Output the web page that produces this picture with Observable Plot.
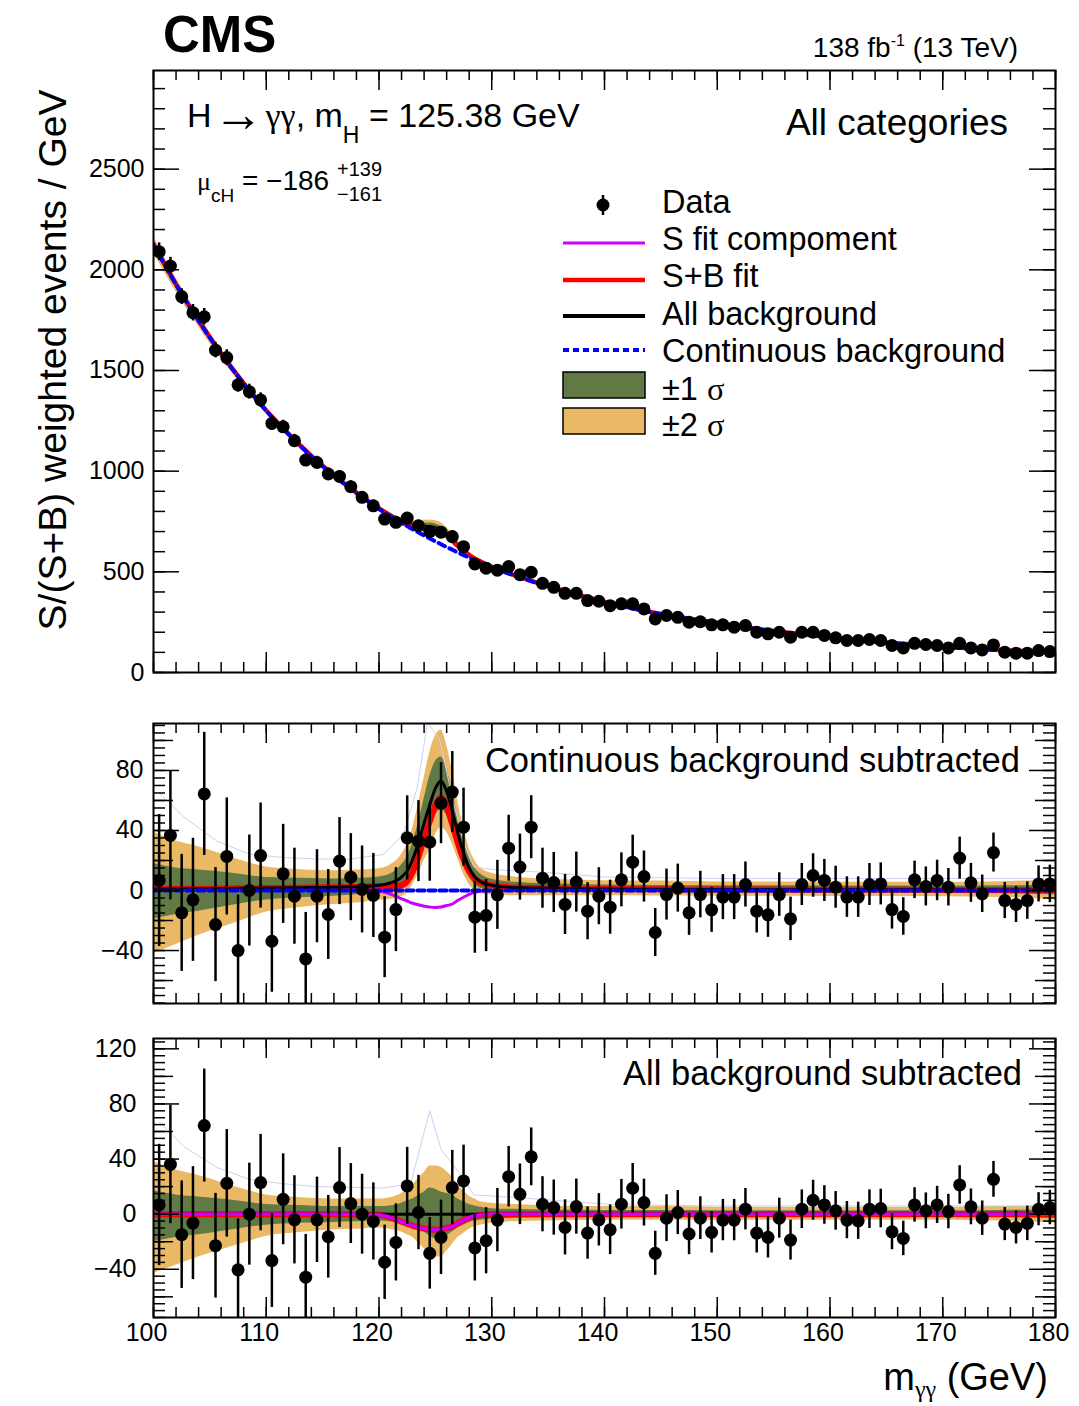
<!DOCTYPE html>
<html>
<head>
<meta charset="utf-8">
<script src="https://cdn.jsdelivr.net/npm/d3@7"></script>
<script src="https://cdn.jsdelivr.net/npm/@observablehq/plot@0.6"></script>
<style>
  body { margin: 0; background: #fff; }
  #fig { position: relative; width: 1079px; height: 1406px; overflow: hidden; background: #fff; }
  #fig svg { position: absolute; left: 0; overflow: visible; }
</style>
</head>
<body>
<div id="fig"></div>
<script>
// ---------------------------------------------------------------------------
// Diphoton mass spectrum, 1 GeV bins from 100 to 180 GeV
// ---------------------------------------------------------------------------
const massBins = d3.range(80).map(i => 100.5 + i);   // bin centres (GeV)

// S/(S+B) weighted events per GeV
const weightedEvents = [
  2090, 2019, 1867, 1787, 1767, 1601, 1564, 1429, 1395, 1354,
  1237, 1220, 1151, 1055, 1043,  986,  974,  923,  870,  828,
   762,  746,  767,  729,  700,  697,  675,  625,  539,  518,
   508,  526,  486,  498,  443,  423,  393,  393,  357,  354,
   332,  341,  341,  316,  266,  283,  274,  250,  252,  237,
   237,  225,  233,  200,  192,  200,  175,  200,  200,  184,
   172,  159,  159,  164,  159,  134,  122,  145,  139,  134,
   122,  145,  122,  112,  137,  101,   96,   96,  109,  104
];

// statistical uncertainty per bin
const eventErrors = [
  44, 43, 39, 41, 41, 38, 39, 37, 37, 35,
  34, 33, 32, 31, 31, 30, 29, 29, 29, 28,
  27, 28, 28, 27, 26, 27, 27, 26, 24, 24,
  23, 22, 22, 21, 20, 20, 20, 20, 19, 19,
  18, 18, 18, 17, 16, 17, 16, 15, 15.5, 15,
  15, 15, 15, 14.5, 15, 14.5, 14.5, 14, 14.5, 14,
  14, 13.5, 13.5, 14, 14, 13, 12.5, 12.5, 13, 13.5,
  12.5, 14, 13, 12.5, 13, 12, 12, 12.5, 12, 12.5
];

// data minus continuous background
const residualContinuous = [
   6.7, 36.7, -14.9, -6.2, 64.4, -22.7, 22.7, -40, 0, 23.3,
  -33.8, 11.1, -3.8, -45.6, -3.8, -16, 19.6, 8.9, 0.7, -3.3,
  -31.1, -12.7, 35.1, 32.9, 32.2, 58.2, 65.6, 42.2, -17.8, -16.7,
  -2.9, 28.2, 15.6, 42.2, 8.2, 5.3, -9.3, 5.6, -13.8, -3.8,
  -11.1, 7.1, 18.9, 9.3, -28, -2.7, 1.6, -14.9, -2.7, -12.9,
  -4.4, -4.4, 4, -13.8, -16.2, -2.7, -18.9, 4, 10, 6.7,
   2.2, -4.4, -4.4, 4, 4.4, -12.7, -17.3, 7.1, 2.7, 6.7,
   2.2, 21.6, 5.1, -2.2, 25.3, -6.7, -9.3, -6.7, 4.4, 4.4
];

// data minus all background (continuous + resonant)
const residualAll = [
   6.7, 36.1, -14.9, -6.5, 64.3, -22.9, 22.4, -40.4, 0, 22.9,
  -33.7, 10.8, -4.1, -45.7, -4.1, -16.4, 19.3, 7.7, 0, -5.3,
  -34.9, -20.5, 20.5, 1.2, -28.4, -16.8, 19.3, 24.1, -24.5, -19.3,
  -4.3, 27.2, 14.4, 41.6, 7.2, 4.8, -9.6, 5.5, -13.7, -4.1,
  -11.3, 7.2, 18.8, 8.4, -28.4, -2.9, 1.2, -14.4, -2.9, -13.2,
  -4.3, -4.3, 3.6, -13.7, -16.8, -2.9, -18.8, 3.6, 10.1, 6.7,
   2.4, -4.3, -4.8, 3.6, 4.1, -12.8, -17.6, 6.7, 2.4, 6.7,
   1.9, 21.2, 5.3, -2.9, 25.3, -7.2, -9.6, -6.7, 3.6, 4.8
];

// ---------------------------------------------------------------------------
// Fit model, sampled on a mass grid
// ---------------------------------------------------------------------------
const curveMass = [
  100, 102, 104, 106, 108, 110, 112, 114, 116, 118, 120, 121, 122, 122.5, 123,
  123.5, 124, 124.5, 125, 125.5, 126, 126.5, 127, 127.5, 128, 128.5, 129, 130,
  132, 135, 140, 145, 150, 155, 160, 165, 170, 175, 180
];
const continuousBkg = [
  2126, 1927, 1747, 1583, 1435, 1300, 1182, 1074, 978, 891, 812, 777, 743, 727, 711,
  696, 681, 666, 651, 637, 623, 610, 596, 583, 571, 558, 546, 522,
  482, 427, 350, 290, 245, 205, 174, 148, 127, 111, 98
];
const resonantBkg = [
  1, 1, 1.2, 1.3, 1.5, 1.6, 1.8, 2, 2.2, 2.6, 3.5, 5, 9, 13, 21,
  32, 45, 57, 68, 73, 66, 53, 38, 25, 15, 9, 6, 3.5,
  2, 1.5, 1, 0.8, 0.7, 0.6, 0.5, 0.5, 0.4, 0.4, 0.3
];
const signalFit = [
  0, 0, 0, 0, 0, 0, 0, 0, 0, -0.2, -0.5, -2.3, -5.5, -7, -8.5,
  -9.5, -10.5, -11, -11.3, -11, -10, -9, -6.5, -4.5, -2.5, -1.2, -0.5, 0,
  0, 0, 0, 0, 0, 0, 0, 0, 0, 0, 0
];
// background uncertainty bands, offsets from the background prediction
const sigma1Up = [
  17, 14, 12.5, 11, 9, 7, 6.5, 6, 5.5, 5.5, 5.5, 6, 8, 9.5, 11,
  13.5, 16, 19, 18, 16, 15, 14, 11, 9, 7, 6, 5, 4,
  3.5, 3, 2.7, 2.6, 2.5, 2.5, 2.5, 2.5, 2.5, 2.7, 3.2
];
const sigma1Down = [
  20, 17, 15, 12.5, 10, 8, 7, 6.5, 6, 5.5, 5, 5.5, 7, 8, 9,
  11, 13, 16, 18, 19, 16, 13, 10, 8, 6, 5, 4.5, 3.5,
  3, 2.5, 2.3, 2.2, 2.2, 2.2, 2.2, 2.2, 2.3, 2.5, 3.2
];
const sigma2Up = [
  38, 32, 28, 23, 18, 14, 12.5, 11.5, 11, 11, 11, 12, 15, 18, 21,
  26, 30, 35, 35, 34, 31, 27, 21, 17, 13, 11, 9, 8,
  7, 6, 5.5, 5.5, 5, 5, 5, 5, 5, 5.5, 6.5
];
const sigma2Down = [
  43, 37, 31, 26, 21, 16, 14, 12.5, 11.5, 11, 10, 11, 13, 15, 17,
  21, 25, 30, 31, 31, 27, 22, 17, 14, 11, 9, 8, 6.5,
  5.5, 5, 4.5, 4.5, 4.5, 4.5, 4.5, 4.5, 4.5, 5, 6.5
];

// faint envelope lines in the residual panels
const envelopeMassCont = [100.5, 102.7, 105.6, 108.6, 111.6, 114.5, 117.5, 120.4, 122.2, 123.4, 124.3, 125.4, 126.5, 127.5, 128.4, 130, 135, 140, 150, 160, 170, 180];
const envelopeCont     = [65, 49, 33, 24, 22, 21, 21, 24, 38, 69, 112, 100, 62, 32, 16, 14, 12, 9, 8, 8, 8, 8];
const envelopeMassAll  = [100.5, 102.7, 105.6, 108.6, 111.6, 114.5, 120.4, 122.8, 124.5, 125.5, 127.5, 128.4, 132.3, 140.6, 150, 160, 170, 180];
const envelopeAll      = [67, 49, 34, 25, 22, 20, 19, 22, 75, 47, 26, 14, 12, 7, 6, 6, 6, 6];

// axis ticks
const xMajorTicks = [100, 110, 120, 130, 140, 150, 160, 170, 180];
const xMinorTicks = d3.range(100, 181, 2);
const topYLabels  = [0, 500, 1000, 1500, 2000, 2500];
const contYLabels = [-40, 0, 40, 80];
const allYLabels  = [-40, 0, 40, 80, 120];

// ---------------------------------------------------------------------------
const bins = massBins.map((m, i) => ({
  m, events: weightedEvents[i], err: eventErrors[i],
  cont: residualContinuous[i], all: residualAll[i]
}));
const curves = curveMass.map((m, i) => ({
  m, cont: continuousBkg[i], res: resonantBkg[i], sig: signalFit[i],
  u1: sigma1Up[i], d1: sigma1Down[i], u2: sigma2Up[i], d2: sigma2Down[i]
}));
const envCont = envelopeMassCont.map((m, i) => ({m, v: envelopeCont[i]}));
const envAll = envelopeMassAll.map((m, i) => ({m, v: envelopeAll[i]}));

const SANS = "'Liberation Sans', Arial, Helvetica, sans-serif";
const SERIF = "'Liberation Serif', 'Times New Roman', serif";
const C = {
  orange: "#eab965", green: "#617a45", red: "#ff0000", black: "#000000",
  violet: "#cc00ff", blue: "#0000ff", faint: "#cfcff3"
};

const W = 1079, ML = 153, MR = 24, FW = W - ML - MR;
const minus = d => (d < 0 ? "\u2212" + (-d) : String(d));
const fig = d3.select("#fig");

// ROOT-style ticks on all four sides, pointing inward
function frameTicks(fh, yMajor, yMid, yMinor) {
  const t = (data, opts) => Plot.tickX(data, {x: d => d, stroke: "black", strokeWidth: 1.5, ...opts});
  const u = (data, opts) => Plot.tickY(data, {y: d => d, stroke: "black", strokeWidth: 1.5, ...opts});
  return [
    t(xMinorTicks, {insetTop: fh - 10}), t(xMajorTicks, {insetTop: fh - 20}),
    t(xMinorTicks, {insetBottom: fh - 10}), t(xMajorTicks, {insetBottom: fh - 20}),
    u(yMinor, {insetRight: FW - 12}), u(yMid, {insetRight: FW - 20}), u(yMajor, {insetRight: FW - 26}),
    u(yMinor, {insetLeft: FW - 12}), u(yMid, {insetLeft: FW - 20}), u(yMajor, {insetLeft: FW - 26}),
    Plot.frame({stroke: "black", strokeWidth: 2})
  ];
}

function panel({top, height, mt, mb, yDomain, marks}) {
  const svg = Plot.plot({
    width: W, height,
    marginLeft: ML, marginRight: MR, marginTop: mt, marginBottom: mb,
    x: {domain: [100, 180], axis: null},
    y: {domain: yDomain, axis: null},
    style: {fontFamily: SANS, background: "transparent", overflow: "visible", color: "black"},
    marks
  });
  svg.style.top = top + "px";
  fig.node().appendChild(svg);
}

function bandMarks(base) {
  return [
    Plot.areaY(curves, {x: "m", y1: d => base(d) - d.d2, y2: d => base(d) + d.u2, fill: C.orange, curve: "monotone-x", clip: true}),
    Plot.areaY(curves, {x: "m", y1: d => base(d) - d.d1, y2: d => base(d) + d.u1, fill: C.green, curve: "monotone-x", clip: true})
  ];
}
function dataMarks(yAcc) {
  return [
    Plot.ruleX(bins, {x: "m", y1: d => yAcc(d) - d.err, y2: d => yAcc(d) + d.err, stroke: "black", strokeWidth: 2.5, clip: true}),
    Plot.dot(bins, {x: "m", y: yAcc, r: 6.5, fill: "black", stroke: "none", clip: true})
  ];
}

// --- top panel: full spectrum ---------------------------------------------
{
  const fh = 672 - 70;
  panel({
    top: 0, height: 692, mt: 70, mb: 20, yDomain: [0, 2990],
    marks: [
      ...bandMarks(d => d.cont + d.res),
      Plot.line(curves, {x: "m", y: d => d.cont + d.res, stroke: C.black, strokeWidth: 3, curve: "monotone-x", clip: true}),
      Plot.line(curves, {x: "m", y: d => d.cont + d.res + d.sig, stroke: C.red, strokeWidth: 4.5, curve: "monotone-x", clip: true}),
      Plot.line(curves, {x: "m", y: "cont", stroke: C.blue, strokeWidth: 4, strokeDasharray: "7 5", curve: "monotone-x", clip: true}),
      ...dataMarks(d => d.events),
      ...frameTicks(fh, topYLabels, [], d3.range(0, 2991, 100)),
      Plot.text(topYLabels, {y: d => d, text: minus, frameAnchor: "left", textAnchor: "end", dx: -9, fontSize: 25})
    ]
  });
}

// --- middle panel: continuous background subtracted -----------------------
{
  const fh = 1003 - 723;
  const yMid = [-60, -20, 20, 60, 100];
  panel({
    top: 692, height: 318, mt: 31, mb: 7, yDomain: [-75.3, 111.3],
    marks: [
      ...bandMarks(d => d.res),
      Plot.line(envCont, {x: "m", y: "v", stroke: C.faint, strokeWidth: 1, clip: true}),
      Plot.line(curves, {x: "m", y: d => d.res + d.sig, stroke: C.red, strokeWidth: 6, curve: "monotone-x", clip: true}),
      Plot.line(curves, {x: "m", y: "res", stroke: C.black, strokeWidth: 3, curve: "monotone-x", clip: true}),
      Plot.line(curves, {x: "m", y: "sig", stroke: C.violet, strokeWidth: 3, curve: "monotone-x", clip: true}),
      Plot.line(curves, {x: "m", y: () => 0, stroke: C.blue, strokeWidth: 4, strokeDasharray: "7 4", clip: true}),
      ...dataMarks(d => d.cont),
      ...frameTicks(fh, contYLabels, yMid, d3.range(-75, 111, 5)),
      Plot.text(contYLabels, {y: d => d, text: minus, frameAnchor: "left", textAnchor: "end", dx: -10, fontSize: 25})
    ]
  });
}

// --- bottom panel: all background subtracted --------------------------------
{
  const fh = 1317 - 1038;
  const yMid = [-60, -20, 20, 60, 100];
  panel({
    top: 1010, height: 396, mt: 28, mb: 89, yDomain: [-75, 127.5],
    marks: [
      ...bandMarks(() => 0),
      Plot.line(envAll, {x: "m", y: "v", stroke: C.faint, strokeWidth: 1, clip: true}),
      Plot.line(curves, {x: "m", y: "sig", stroke: C.red, strokeWidth: 6, curve: "monotone-x", clip: true}),
      Plot.line(curves, {x: "m", y: () => 0, stroke: C.black, strokeWidth: 3, clip: true}),
      Plot.line(curves, {x: "m", y: "sig", stroke: C.violet, strokeWidth: 3.5, curve: "monotone-x", clip: true}),
      ...dataMarks(d => d.all),
      ...frameTicks(fh, allYLabels, yMid, d3.range(-75, 128, 5)),
      Plot.text(allYLabels, {y: d => d, text: minus, frameAnchor: "left", textAnchor: "end", dx: -17, fontSize: 25}),
      Plot.text(xMajorTicks, {x: d => d, text: String, frameAnchor: "bottom", lineAnchor: "top", dx: -7, dy: 6, fontSize: 25})
    ]
  });
}

// ---------------------------------------------------------------------------
// Text, titles and legend
// ---------------------------------------------------------------------------
const over = fig.append("svg")
  .attr("width", W).attr("height", 1406)
  .style("top", "0px").style("pointer-events", "none")
  .attr("font-family", SANS);

function text(x, y, parts, {size, anchor = "start", weight = "normal", transform} = {}) {
  const t = over.append("text").attr("x", x).attr("y", y)
    .attr("font-size", size).attr("text-anchor", anchor).attr("font-weight", weight);
  if (transform) t.attr("transform", transform);
  for (const p of (typeof parts === "string" ? [{t: parts}] : parts)) {
    const s = t.append("tspan").text(p.t);
    if (p.size) s.attr("font-size", p.size);
    if (p.dy) s.attr("dy", p.dy);
    if (p.dx) s.attr("dx", p.dx);
    if (p.serif) s.attr("font-family", SERIF);
    if (p.family) s.attr("font-family", p.family);
  }
  return t;
}

text(163, 52, "CMS", {size: 51, weight: "bold"});
text(1018, 57, [{t: "138 fb"}, {t: "-1", size: 16, dy: -11}, {t: " (13 TeV)", dy: 11}], {size: 28, anchor: "end"});

text(187, 127, [
  {t: "H"}, {t: "\u2192", size: 50, dy: 4, dx: 2},
  {t: "\u03b3\u03b3", serif: true, dy: -4, dx: 2}, {t: ", m"},
  {t: "H", size: 23, dy: 16}, {t: " = 125.38 GeV", dy: -16}
], {size: 34});
text(197, 190, [{t: "\u03bc", serif: true, size: 26}, {t: "cH", size: 19, dy: 12}, {t: " = \u2212186", dy: -12}], {size: 28});
text(337, 176, "+139", {size: 20});
text(337, 201, "\u2212161", {size: 20});
text(1008, 135, "All categories", {size: 37, anchor: "end"});

text(1020, 772, "Continuous background subtracted", {size: 34.5, anchor: "end"});
text(1022, 1085, "All background subtracted", {size: 34.5, anchor: "end"});

text(0, 0, "S/(S+B) weighted events / GeV", {size: 39, anchor: "middle", transform: "translate(66,360) rotate(-90)"});
text(1048, 1390, [{t: "m"}, {t: "\u03b3\u03b3", serif: true, size: 24, dy: 7}, {t: " (GeV)", dy: -7}], {size: 38, anchor: "end"});

// legend
const lg = over.append("g");
const LX0 = 563, LX1 = 645, TX = 662;
lg.append("line").attr("x1", 603).attr("x2", 603).attr("y1", 195).attr("y2", 215).attr("stroke", "black").attr("stroke-width", 2.5);
lg.append("circle").attr("cx", 603).attr("cy", 205).attr("r", 6.5).attr("fill", "black");
const legendLines = [
  {y: 243, stroke: C.violet, w: 3},
  {y: 280, stroke: C.red, w: 4.5},
  {y: 316, stroke: C.black, w: 4},
  {y: 350, stroke: C.blue, w: 4, dash: "6 4"}
];
for (const l of legendLines) {
  const e = lg.append("line").attr("x1", LX0).attr("x2", LX1).attr("y1", l.y).attr("y2", l.y)
    .attr("stroke", l.stroke).attr("stroke-width", l.w);
  if (l.dash) e.attr("stroke-dasharray", l.dash);
}
lg.append("rect").attr("x", LX0).attr("y", 372).attr("width", LX1 - LX0).attr("height", 26)
  .attr("fill", C.green).attr("stroke", "black").attr("stroke-width", 1.5);
lg.append("rect").attr("x", LX0).attr("y", 408).attr("width", LX1 - LX0).attr("height", 26)
  .attr("fill", C.orange).attr("stroke", "black").attr("stroke-width", 1.5);

const LS = 32.5;
text(TX, 213, "Data", {size: LS});
text(TX, 250, "S fit compoment", {size: LS});
text(TX, 287, "S+B fit", {size: LS});
text(TX, 325, "All background", {size: LS});
text(TX, 362, "Continuous background", {size: LS});
text(TX, 400, [{t: "\u00b11 "}, {t: "\u03c3", serif: true}], {size: LS});
text(TX, 436, [{t: "\u00b12 "}, {t: "\u03c3", serif: true}], {size: LS});
</script>
</body>
</html>
